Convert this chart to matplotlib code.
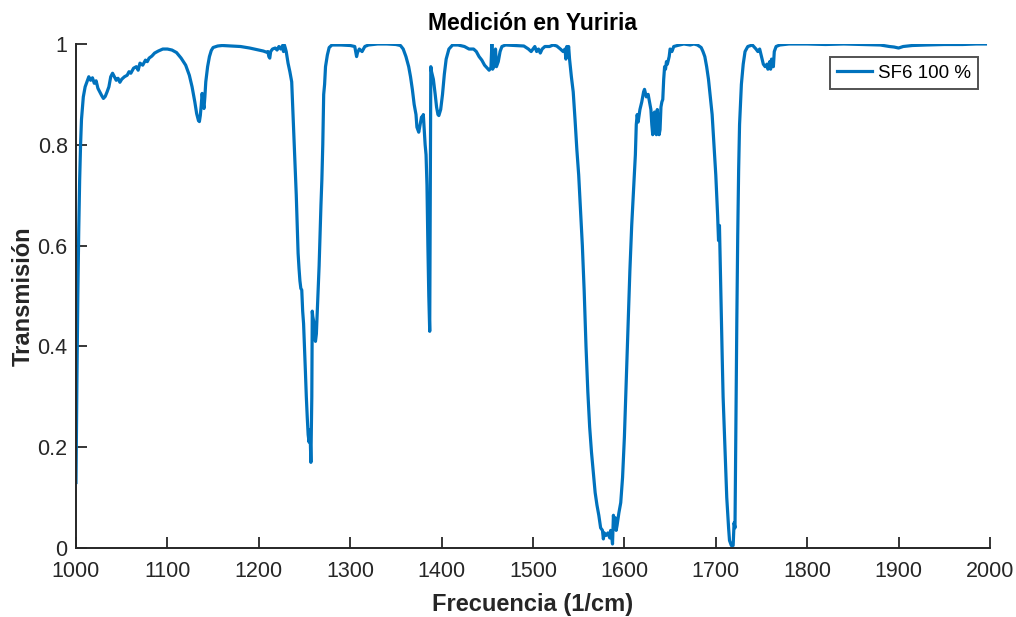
import matplotlib
matplotlib.use("Agg")
import matplotlib.pyplot as plt

# Espectro de transmisión medido (frecuencia en 1/cm)
freq = [1000, 1001, 1002, 1003, 1004, 1005, 1006, 1008, 1010, 1012, 1014, 1016, 1018, 1020,
        1022, 1024, 1026, 1028, 1030, 1032, 1034, 1036, 1038, 1040, 1042, 1044, 1046, 1048,
        1050, 1053, 1056, 1058, 1060, 1063, 1066, 1068, 1070, 1073, 1076, 1078, 1080, 1083,
        1086, 1090, 1095, 1100, 1105, 1110, 1115, 1120, 1124, 1127, 1130, 1132, 1134, 1135,
        1136, 1137, 1138, 1139, 1140, 1141, 1142, 1144, 1146, 1148, 1150, 1155, 1160, 1170,
        1180, 1190, 1200, 1205, 1208, 1210, 1211, 1212, 1213, 1215, 1218, 1220, 1222, 1224,
        1226, 1227, 1228, 1229, 1230, 1232, 1234, 1236, 1237, 1238, 1239, 1240, 1241, 1242,
        1243, 1244, 1245, 1246, 1247, 1248, 1249, 1250, 1251, 1252, 1253, 1254, 1255, 1256,
        1257, 1258, 1258.5, 1259, 1260, 1261, 1262, 1263, 1264, 1265, 1266, 1267, 1268, 1269,
        1270, 1271, 1272, 1273, 1275, 1277, 1280, 1290, 1300, 1305, 1306, 1307, 1308, 1310,
        1313, 1316, 1320, 1330, 1340, 1350, 1355, 1358, 1361, 1364, 1366, 1368, 1370, 1372,
        1373, 1375, 1377, 1378, 1379, 1380, 1381, 1382, 1383, 1384, 1385, 1386, 1387, 1387.6,
        1388.2, 1389, 1391, 1393, 1394.5, 1396, 1397, 1399, 1401, 1403, 1405, 1408, 1412, 1418,
        1425, 1430, 1435, 1438, 1441, 1444, 1447, 1450, 1452, 1454, 1455, 1455.8, 1457, 1458,
        1459, 1460, 1462, 1464, 1466, 1470, 1480, 1490, 1495, 1498, 1500, 1502, 1504, 1506,
        1508, 1510, 1513, 1518, 1522, 1526, 1530, 1533, 1535, 1536, 1537, 1538, 1539, 1540,
        1542, 1544, 1546, 1548, 1550, 1552, 1554, 1556, 1558, 1560, 1562, 1564, 1566, 1568,
        1570, 1572, 1574, 1576, 1577, 1578, 1580, 1582, 1584, 1585, 1586, 1587, 1588, 1589,
        1590, 1591, 1592, 1594, 1596, 1598, 1600, 1602, 1604, 1606, 1608, 1610, 1612, 1613,
        1614, 1615, 1617, 1619, 1621, 1622, 1624, 1626, 1628, 1629, 1630, 1631, 1632, 1633,
        1634, 1635, 1636, 1637, 1638, 1639, 1640, 1641, 1642, 1643, 1644, 1645, 1646, 1647,
        1649, 1650, 1652, 1654, 1658, 1665, 1672, 1676, 1680, 1684, 1686, 1688, 1690, 1692,
        1694, 1696, 1698, 1699, 1700, 1701, 1702, 1703, 1704, 1705, 1706, 1707, 1708, 1710,
        1712, 1714, 1715, 1717, 1719, 1720, 1721, 1722, 1723, 1724, 1725, 1726, 1728, 1730,
        1732, 1735, 1740, 1744, 1746, 1748, 1750, 1752, 1754, 1756, 1757, 1759, 1760, 1761,
        1763, 1764, 1766, 1770, 1780, 1800, 1820, 1840, 1860, 1880, 1890, 1895, 1900, 1905,
        1915, 1930, 1950, 1970, 1985, 1995]
trans = [0.13, 0.33, 0.50, 0.63, 0.73, 0.80, 0.85, 0.895, 0.915, 0.925, 0.935, 0.928, 0.933, 0.922,
         0.927, 0.912, 0.905, 0.898, 0.892, 0.896, 0.905, 0.915, 0.935, 0.942, 0.935, 0.928, 0.932, 0.924,
         0.930, 0.935, 0.938, 0.945, 0.942, 0.952, 0.955, 0.948, 0.962, 0.958, 0.968, 0.965, 0.972, 0.976,
         0.982, 0.986, 0.990, 0.990, 0.988, 0.983, 0.972, 0.958, 0.938, 0.915, 0.885, 0.862, 0.848, 0.846,
         0.858, 0.878, 0.902, 0.885, 0.872, 0.895, 0.925, 0.955, 0.975, 0.987, 0.993, 0.996, 0.997, 0.996,
         0.995, 0.992, 0.988, 0.986, 0.984, 0.985, 0.975, 0.972, 0.985, 0.990, 0.992, 0.988, 0.995, 0.990,
         0.997, 0.985, 0.998, 0.992, 0.985, 0.962, 0.945, 0.925, 0.880, 0.830, 0.790, 0.750, 0.700, 0.640,
         0.585, 0.555, 0.530, 0.515, 0.512, 0.470, 0.445, 0.40, 0.35, 0.30, 0.26, 0.225, 0.21, 0.235,
         0.17, 0.30, 0.47, 0.46, 0.45, 0.42, 0.41, 0.425, 0.47, 0.51, 0.56, 0.62, 0.68, 0.73,
         0.80, 0.90, 0.92, 0.955, 0.978, 0.993, 0.998, 0.998, 0.997, 0.995, 0.985, 0.975, 0.983, 0.990,
         0.985, 0.995, 0.998, 1.0, 1.0, 0.999, 0.997, 0.99, 0.975, 0.955, 0.935, 0.91, 0.88, 0.86,
         0.835, 0.825, 0.845, 0.855, 0.85, 0.86, 0.83, 0.80, 0.78, 0.72, 0.60, 0.50, 0.43, 0.70,
         0.955, 0.945, 0.93, 0.90, 0.875, 0.86, 0.858, 0.87, 0.90, 0.94, 0.97, 0.99, 0.998, 0.998,
         0.995, 0.99, 0.99, 0.985, 0.975, 0.968, 0.958, 0.952, 0.948, 0.953, 1.0, 0.95, 0.955, 0.962,
         0.99, 0.955, 0.965, 0.985, 0.995, 0.998, 0.997, 0.996, 0.99, 0.985, 0.99, 0.995, 0.985, 0.99,
         0.982, 0.99, 0.995, 0.995, 0.998, 0.996, 0.99, 0.985, 0.99, 0.97, 0.995, 0.985, 0.995, 0.97,
         0.935, 0.905, 0.85, 0.79, 0.74, 0.67, 0.60, 0.51, 0.40, 0.31, 0.24, 0.19, 0.15, 0.11,
         0.085, 0.065, 0.04, 0.035, 0.018, 0.03, 0.025, 0.03, 0.02, 0.035, 0.025, 0.008, 0.065, 0.04,
         0.06, 0.035, 0.045, 0.07, 0.09, 0.14, 0.22, 0.33, 0.44, 0.55, 0.64, 0.71, 0.78, 0.84,
         0.86, 0.845, 0.87, 0.885, 0.905, 0.91, 0.895, 0.90, 0.88, 0.87, 0.84, 0.82, 0.86, 0.865,
         0.83, 0.82, 0.87, 0.84, 0.82, 0.83, 0.875, 0.885, 0.89, 0.93, 0.955, 0.95, 0.965, 0.96,
         0.975, 0.99, 0.985, 0.995, 0.997, 1.0, 0.998, 1.0, 0.998, 0.993, 0.985, 0.975, 0.955, 0.93,
         0.895, 0.86, 0.80, 0.77, 0.74, 0.70, 0.66, 0.61, 0.64, 0.55, 0.45, 0.38, 0.30, 0.20,
         0.10, 0.04, 0.015, 0.005, 0.005, 0.05, 0.04, 0.25, 0.45, 0.62, 0.75, 0.84, 0.92, 0.96,
         0.985, 0.995, 0.998, 0.99, 0.985, 0.99, 0.975, 0.96, 0.955, 0.96, 0.95, 0.965, 0.95, 0.97,
         0.955, 0.985, 0.995, 0.998, 1.0, 1.0, 0.999, 1.0, 0.999, 0.998, 0.995, 0.994, 0.992, 0.995,
         0.997, 0.998, 0.999, 0.999, 1.0, 1.0]

xticks = [1000, 1100, 1200, 1300, 1400, 1500, 1600, 1700, 1800, 1900, 2000]
yticks = [0, 0.2, 0.4, 0.6, 0.8, 1]
ytick_labels = ["0", "0.2", "0.4", "0.6", "0.8", "1"]

plt.rcParams["font.family"] = ["Liberation Sans", "DejaVu Sans"]
gris = "#262626"

fig = plt.figure(figsize=(10.16, 6.17), dpi=100)
ax = fig.add_axes([0.0748, 0.1118, 0.8996, 0.8169])

ax.plot(freq, trans, color="#0072BD", linewidth=2.3, label="SF6 100 %")

ax.set_xlim(1000, 2000)
ax.set_ylim(0, 1)
ax.set_xticks(xticks)
ax.set_xticklabels([str(v) for v in xticks])
ax.set_yticks(yticks)
ax.set_yticklabels(ytick_labels)

# solo ejes izquierdo e inferior, marcas hacia adentro
ax.spines["top"].set_visible(False)
ax.spines["right"].set_visible(False)
for s in ("left", "bottom"):
    ax.spines[s].set_color(gris)
    ax.spines[s].set_linewidth(1.4)
ax.tick_params(direction="in", length=8, width=1.3, colors=gris, labelsize=15.5)
ax.tick_params(axis="x", pad=9)
ax.tick_params(axis="y", pad=6)

ax.set_title("Medición en Yuriria", fontsize=16.5, fontweight="bold", color="black", pad=10)
ax.set_xlabel("Frecuencia (1/cm)", fontsize=17, fontweight="bold", color=gris, labelpad=8)
ax.set_ylabel("Transmisión", fontsize=17, fontweight="bold", color=gris, labelpad=2)

leg = ax.legend(loc="upper right", bbox_to_anchor=(0.987, 0.974), borderaxespad=0,
                fancybox=False, fontsize=13.5, handlelength=1.85, handletextpad=0.3,
                borderpad=0.4)
leg.get_frame().set_edgecolor(gris)
leg.get_frame().set_linewidth(1.4)

fig.savefig("out.png", dpi=100)
